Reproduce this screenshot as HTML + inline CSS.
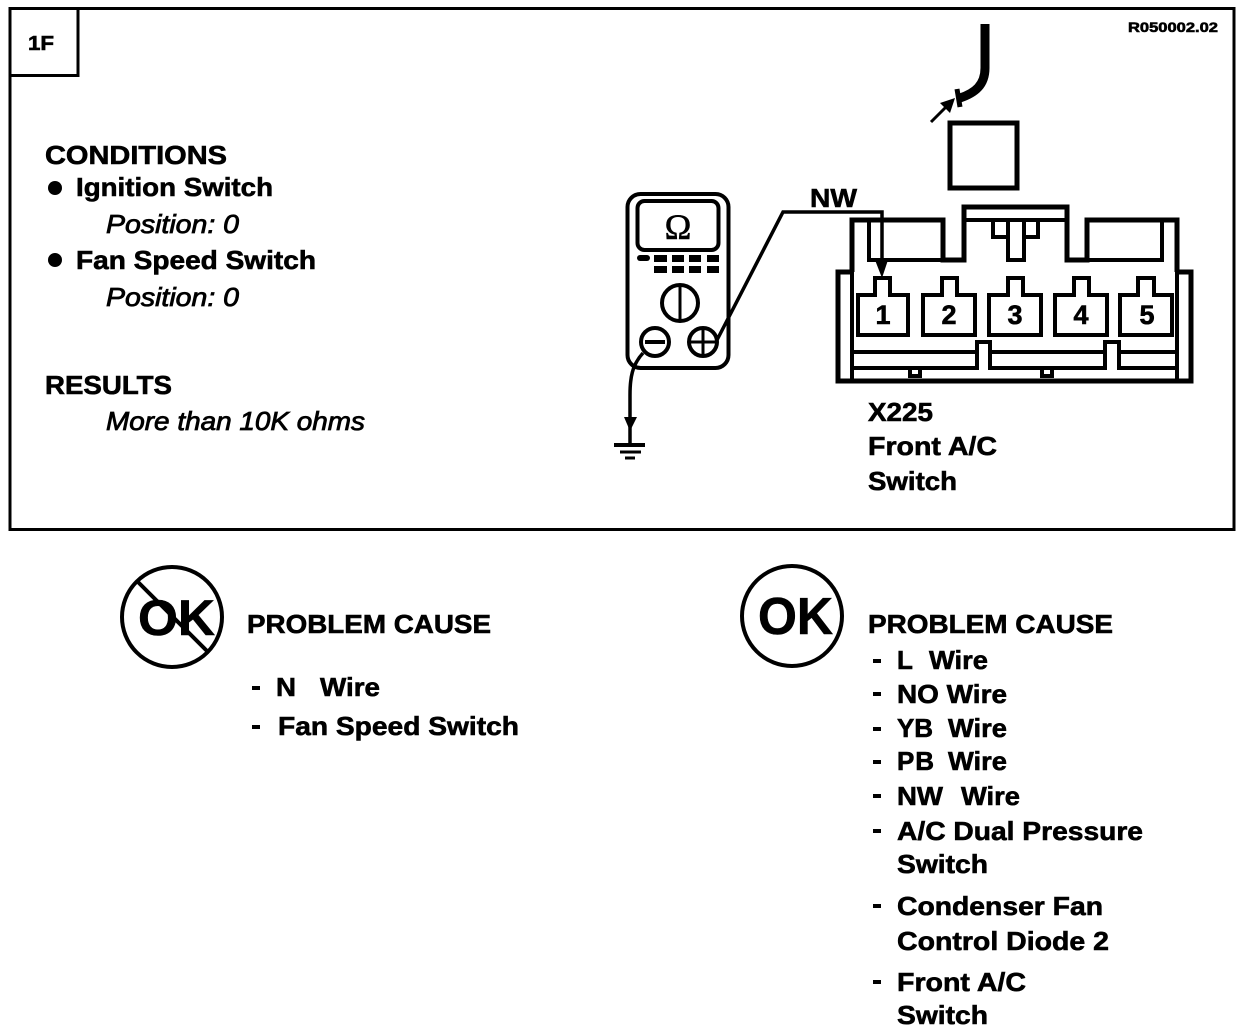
<!DOCTYPE html>
<html><head><meta charset="utf-8"><style>
html,body{margin:0;padding:0;background:#fff}
svg{display:block}
text{font-family:"Liberation Sans",sans-serif;font-size:26px;font-weight:bold;fill:#000;stroke:#000;stroke-width:.6px}
.i{font-style:italic;font-weight:normal;stroke-width:.8px}
.n{text-anchor:middle}
.l{fill:none;stroke:#000;stroke-width:4}
.t{fill:none;stroke:#000;stroke-width:3}
</style></head><body>
<svg width="1248" height="1030" viewBox="0 0 1248 1030" xmlns="http://www.w3.org/2000/svg">
<rect x="10" y="8.500" width="1224" height="521" fill="none" stroke="#000" stroke-width="3"/>
<rect x="10" y="8.500" width="68" height="67" fill="none" stroke="#000" stroke-width="3"/>
<text x="28" y="50" style="font-size:20px" textLength="26" lengthAdjust="spacingAndGlyphs">1F</text>
<text x="1128" y="32" style="font-size:14px" textLength="90" lengthAdjust="spacingAndGlyphs">R050002.02</text>

<text x="45" y="164" textLength="182" lengthAdjust="spacingAndGlyphs">CONDITIONS</text>
<circle cx="55" cy="188" r="7"/>
<text x="76" y="196" textLength="197" lengthAdjust="spacingAndGlyphs">Ignition Switch</text>
<text class="i" x="106" y="233" textLength="133" lengthAdjust="spacingAndGlyphs">Position: 0</text>
<circle cx="55" cy="260" r="7"/>
<text x="76" y="269" textLength="240" lengthAdjust="spacingAndGlyphs">Fan Speed Switch</text>
<text class="i" x="106" y="306" textLength="133" lengthAdjust="spacingAndGlyphs">Position: 0</text>
<text x="45" y="394" textLength="127" lengthAdjust="spacingAndGlyphs">RESULTS</text>
<text class="i" x="106" y="430" textLength="259" lengthAdjust="spacingAndGlyphs">More than 10K ohms</text>

<!-- top cable -->
<path d="M985 24V68C985 85 975 93 960 98" fill="none" stroke="#000" stroke-width="9"/>
<path d="M957 89L960 107" fill="none" stroke="#000" stroke-width="5"/>
<path d="M931 122L948 105" fill="none" stroke="#000" stroke-width="3"/>
<path d="M955 98L940 103L950 113Z"/>
<rect x="950" y="123" width="67" height="65" fill="none" stroke="#000" stroke-width="5"/>

<!-- connector -->
<path d="M852 272V220H943V260H964V207H1067V260H1087V220H1177V272" fill="none" stroke="#000" stroke-width="5"/>
<path d="M869 220V260H943M1087 260H1162V220M964 220H1067" class="l"/>
<path d="M993 220V237H1008V260H1024V237H1038V220M1008 220V237M1024 220V237" class="l"/>
<path d="M852 272H838V381H1191V272H1177" fill="none" stroke="#000" stroke-width="5"/>
<path d="M852 272V381M1177 272V381" class="l"/>
<path d="M852 352H977V342H990V368H1105V342H1119V368H1177M852 368H977V342M990 352H1105M1119 352H1177M852 368H910V376H920V368M1042 368V376H1052V368" class="l"/>
<path d="M875 295V278H890V295H908V335H858V295Z" class="l"/>
<path d="M942 295V278H957V295H975V335H923V295Z" class="l"/>
<path d="M1008 295V278H1023V295H1041V335H989V295Z" class="l"/>
<path d="M1074 295V278H1089V295H1107V335H1055V295Z" class="l"/>
<path d="M1138 295V278H1154V295H1172V335H1120V295Z" class="l"/>
<text class="n" x="883" y="324" style="font-size:27px">1</text>
<text class="n" x="949" y="324" style="font-size:27px">2</text>
<text class="n" x="1015" y="324" style="font-size:27px">3</text>
<text class="n" x="1081" y="324" style="font-size:27px">4</text>
<text class="n" x="1147" y="324" style="font-size:27px">5</text>
<text x="810" y="207" textLength="47" lengthAdjust="spacingAndGlyphs">NW</text>

<!-- meter -->
<rect x="627.500" y="194" width="101" height="174" rx="13" class="l"/>
<rect x="637.500" y="201" width="81" height="49" rx="7" class="l"/>
<text class="n" x="678" y="239" style="font-family:'Liberation Serif',serif;font-size:36px;font-weight:normal">Ω</text>
<rect x="637" y="255" width="13" height="6" rx="3"/>
<rect x="654" y="255" width="13" height="7"/><rect x="672" y="255" width="12" height="7"/><rect x="689" y="255" width="12" height="7"/><rect x="707" y="255" width="12" height="7"/>
<rect x="654" y="266" width="13" height="7"/><rect x="672" y="266" width="12" height="7"/><rect x="689" y="266" width="12" height="7"/><rect x="707" y="266" width="12" height="7"/>
<circle cx="680" cy="303" r="18" class="l"/><path d="M680 285V321" class="t"/>
<circle cx="655" cy="342" r="14" class="l"/><path d="M645 342H665" class="l"/>
<circle cx="703" cy="342" r="14" class="l"/><path d="M689 342H717M703 328V356" class="t"/>

<!-- wires -->
<path d="M717 340L783 212H882V262" fill="none" stroke="#000" stroke-width="3.500"/>
<path d="M875 260H888L882 278Z"/>
<path d="M643 353C632 365 630 378 630 395V445" fill="none" stroke="#000" stroke-width="3.500"/>
<path d="M624 417H637L630 431Z"/>
<path d="M614 445H645" class="l"/><path d="M620 452H641" class="t"/><path d="M625 458H635" class="t"/>

<text x="868" y="421" textLength="65" lengthAdjust="spacingAndGlyphs">X225</text>
<text x="868" y="455" textLength="129" lengthAdjust="spacingAndGlyphs">Front A/C</text>
<text x="868" y="490" textLength="89" lengthAdjust="spacingAndGlyphs">Switch</text>

<!-- NOT OK -->
<circle cx="172" cy="617" r="50" class="l"/>
<text x="138" y="635" style="font-size:50px" textLength="77" lengthAdjust="spacingAndGlyphs">OK</text>
<path d="M138 582L208 652" class="l"/>
<text x="247" y="633" textLength="244" lengthAdjust="spacingAndGlyphs">PROBLEM CAUSE</text>
<path d="M252 688H260M252 727H260M873 661H881M873 694H881M873 729H881M873 762H881M873 796H881M873 831H881M873 906H881M873 982H881" stroke="#000" stroke-width="4"/>
<text x="276" y="696" textLength="20" lengthAdjust="spacingAndGlyphs">N</text>
<text x="320" y="696" textLength="60" lengthAdjust="spacingAndGlyphs">Wire</text>
<text x="278" y="735" textLength="241" lengthAdjust="spacingAndGlyphs">Fan Speed Switch</text>

<!-- OK -->
<circle cx="792" cy="616" r="50" class="l"/>
<text x="758" y="634" style="font-size:52px" textLength="75" lengthAdjust="spacingAndGlyphs">OK</text>
<text x="868" y="633" textLength="245" lengthAdjust="spacingAndGlyphs">PROBLEM CAUSE</text>
<text x="897" y="669">L</text><text x="929" y="669" textLength="59" lengthAdjust="spacingAndGlyphs">Wire</text>
<text x="897" y="703" textLength="110" lengthAdjust="spacingAndGlyphs">NO Wire</text>
<text x="897" y="737" textLength="36">YB</text><text x="948" y="737" textLength="59" lengthAdjust="spacingAndGlyphs">Wire</text>
<text x="897" y="770" textLength="37">PB</text><text x="948" y="770" textLength="59" lengthAdjust="spacingAndGlyphs">Wire</text>
<text x="897" y="805" textLength="46" lengthAdjust="spacingAndGlyphs">NW</text><text x="961" y="805" textLength="59" lengthAdjust="spacingAndGlyphs">Wire</text>
<text x="897" y="840" textLength="246" lengthAdjust="spacingAndGlyphs">A/C Dual Pressure</text>
<text x="897" y="873" textLength="91" lengthAdjust="spacingAndGlyphs">Switch</text>
<text x="897" y="915" textLength="206" lengthAdjust="spacingAndGlyphs">Condenser Fan</text>
<text x="897" y="950" textLength="212" lengthAdjust="spacingAndGlyphs">Control Diode 2</text>
<text x="897" y="991" textLength="129" lengthAdjust="spacingAndGlyphs">Front A/C</text>
<text x="897" y="1024" textLength="91" lengthAdjust="spacingAndGlyphs">Switch</text>
</svg>
</body></html>
